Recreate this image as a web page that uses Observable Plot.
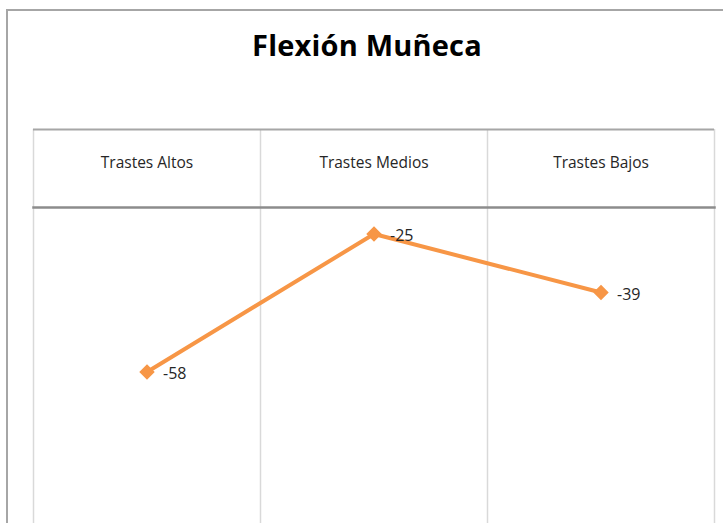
<!DOCTYPE html>
<html><head><meta charset="utf-8">
<script src="https://cdn.jsdelivr.net/npm/d3@7"></script>
<script src="https://cdn.jsdelivr.net/npm/@observablehq/plot@0.6"></script>
<style>
html,body{margin:0;padding:0;background:#fff;overflow:hidden;width:723px;height:523px;}
#wrap{position:relative;width:723px;height:523px;}
#border{position:absolute;left:6px;top:9px;width:730px;height:600px;border-left:2px solid #a6a6a6;border-top:2px solid #a6a6a6;}
#title{position:absolute;left:0;top:25px;width:734px;text-align:center;font-family:"Open Sans",sans-serif;font-weight:700;font-size:29px;color:#000;letter-spacing:0.2px;}
#chart{position:absolute;left:0;top:0;}
</style></head>
<body><div id="wrap"><div id="border"></div><div id="title">Flexión Muñeca</div><div id="chart"></div></div>
<script>
const categories = ["Trastes Altos", "Trastes Medios", "Trastes Bajos"];
const values = [-58, -25, -39];
const bounds = [0, 1, 2, 3];

const data = categories.map((c, i) => ({cat: c, pos: i + 0.5, v: values[i]}));

const chart = Plot.plot({
  width: 723,
  height: 560,
  marginLeft: 33,
  marginRight: 9,
  marginTop: 207,
  marginBottom: 13,
  style: {fontFamily: "'Open Sans', sans-serif", background: "transparent"},
  x: {domain: [0, 3], range: [33, 714]},
  y: {domain: [-100, 0], range: [547, 129], axis: null},
  marks: [
    Plot.ruleX(bounds, {y1: 0, y2: -100, stroke: "#d9d9d9", strokeWidth: 1.5}),
    Plot.ruleY([0], {x1: 0, x2: 3, stroke: "#a6a6a6", strokeWidth: 2}),
    Plot.frame({anchor: "top", stroke: "#8c8c8c", strokeWidth: 2.5}),
    Plot.axisX({anchor: "top", ticks: data.map(d => d.pos), tickFormat: p => categories[Math.floor(p)], tickSize: 0, tickPadding: 40, fontSize: 15.5, letterSpacing: 0.4, fill: "#262626", label: null}),
    Plot.line(data, {x: "pos", y: "v", stroke: "#f79646", strokeWidth: 4}),
    Plot.dot(data, {x: "pos", y: "v", symbol: "diamond2", r: 6, fill: "#f79646", stroke: "#f79646"}),
    Plot.text(data, {x: "pos", y: "v", text: d => String(d.v), dx: 16, dy: 2, textAnchor: "start", fontSize: 16, letterSpacing: 0.6, fill: "#262626"})
  ]
});
chart.style.overflow = "visible";
document.getElementById("chart").append(chart);
</script></body></html>
